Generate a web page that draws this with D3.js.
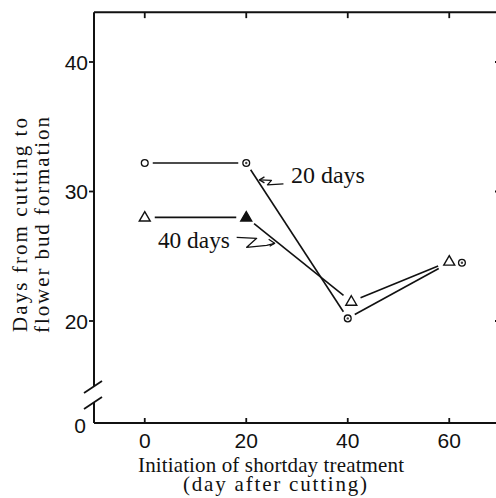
<!DOCTYPE html>
<html>
<head>
<meta charset="utf-8">
<script src="https://cdn.jsdelivr.net/npm/d3@7"></script>
<style>
  body { margin: 0; background: #fff; }
  svg { display: block; }
</style>
</head>
<body>
<div id="chart"></div>
<script>
// data
const xTicks = [0, 20, 40, 60];
const yTicks = [20, 30, 40];

// "20 days" series (circles)
const days20X = [0, 20, 40, 60];
const days20Y = [32.2, 32.2, 20.2, 24.5];
const days20MarkX = [0, 20, 40, 62.5]; // last circle printed a bit to the right

// "40 days" series (triangles)
const days40X = [0, 20, 40.7, 60];
const days40Y = [28.0, 28.0, 21.5, 24.6];
const days40Filled = [false, true, false, false];

const width = 496, height = 498;
const ink = '#111';

const svg = d3.select('#chart').append('svg')
    .attr('width', width)
    .attr('height', height);

const x = d3.scaleLinear().domain([-10, 70]).range([94, 500]);
const y = d3.scaleLinear().domain([20, 40]).range([321, 62]);
const yTop = y(43.85);
const yZero = 423;      // broken axis: zero sits at the bottom frame
const xLeft = x(-10), xRight = x(70);

// frame
const frame = svg.append('g')
    .attr('stroke', ink)
    .attr('stroke-width', 2)
    .attr('fill', 'none');

frame.append('line').attr('x1', xLeft).attr('x2', xRight).attr('y1', yTop).attr('y2', yTop);
frame.append('line').attr('x1', xLeft).attr('x2', xRight).attr('y1', yZero).attr('y2', yZero);
frame.append('line').attr('x1', xRight).attr('x2', xRight).attr('y1', yTop).attr('y2', yZero);
// left axis with break
frame.append('line').attr('x1', xLeft).attr('x2', xLeft).attr('y1', yTop).attr('y2', 386);
frame.append('line').attr('x1', xLeft).attr('x2', xLeft).attr('y1', 402).attr('y2', yZero);
frame.append('line').attr('x1', xLeft - 10).attr('x2', xLeft + 8).attr('y1', 393).attr('y2', 381)
    .attr('stroke-width', 1.8);
frame.append('line').attr('x1', xLeft - 10).attr('x2', xLeft + 8).attr('y1', 409).attr('y2', 397)
    .attr('stroke-width', 1.8);

// ticks
const ticks = svg.append('g').attr('stroke', ink).attr('stroke-width', 1.8);
ticks.selectAll('.tl').data(yTicks).enter().append('line')
    .attr('x1', xLeft - 5).attr('x2', xLeft)
    .attr('y1', d => y(d)).attr('y2', d => y(d));
ticks.selectAll('.tr').data(yTicks).enter().append('line')
    .attr('x1', xRight - 5).attr('x2', xRight)
    .attr('y1', d => y(d)).attr('y2', d => y(d));
ticks.selectAll('.tt').data(xTicks).enter().append('line')
    .attr('x1', d => x(d)).attr('x2', d => x(d))
    .attr('y1', yTop).attr('y2', yTop + 6);
ticks.selectAll('.tb').data(xTicks).enter().append('line')
    .attr('x1', d => x(d)).attr('x2', d => x(d))
    .attr('y1', yZero - 5).attr('y2', yZero);

// tick labels
const tickFont = 'Liberation Sans, Arial, sans-serif';
svg.selectAll('.yl').data(yTicks).enter().append('text')
    .attr('x', xLeft - 6)
    .attr('y', d => y(d))
    .attr('dy', '0.36em')
    .attr('text-anchor', 'end')
    .style('font-family', tickFont)
    .style('font-size', '21px')
    .attr('fill', ink)
    .text(d => d);
svg.append('text')
    .attr('x', xLeft - 8)
    .attr('y', yZero + 2)
    .attr('dy', '0.36em')
    .attr('text-anchor', 'end')
    .style('font-family', tickFont)
    .style('font-size', '21px')
    .attr('fill', ink)
    .text('0');
svg.selectAll('.xl').data(xTicks).enter().append('text')
    .attr('x', d => x(d))
    .attr('y', 448)
    .attr('text-anchor', 'middle')
    .style('font-family', tickFont)
    .style('font-size', '21px')
    .attr('fill', ink)
    .text(d => d);

// axis titles
const serif = 'Liberation Serif, Times New Roman, serif';
function title(txt, tx, ty, len, rot) {
    svg.append('text')
        .attr('transform', `translate(${tx},${ty})` + (rot ? ' rotate(-90)' : ''))
        .attr('text-anchor', 'middle')
        .attr('textLength', len)
        .attr('lengthAdjust', 'spacing')
        .style('font-family', serif)
        .style('font-size', '21px')
        .attr('fill', ink)
        .text(txt);
}
title('Initiation of shortday treatment', 271, 472, 266, false);
title('(day after cutting)', 275, 491, 184, false);
title('Days from cutting to', 27, 225, 214, true);
title('flower bud formation', 49, 225, 216, true);

// series lines, trimmed so they stop short of the markers
function trimmed(xs, ys, g0, g1) {
    const segs = [];
    for (let i = 0; i < xs.length - 1; i++) {
        const ax = x(xs[i]), ay = y(ys[i]), bx = x(xs[i + 1]), by = y(ys[i + 1]);
        const L = Math.hypot(bx - ax, by - ay);
        const ux = (bx - ax) / L, uy = (by - ay) / L;
        const e = i === xs.length - 2 ? g1 : g0;
        segs.push([ax + ux * g0, ay + uy * g0, bx - ux * e, by - uy * e]);
    }
    return segs;
}
const lines = svg.append('g').attr('stroke', ink).attr('stroke-width', 1.6);
lines.selectAll('.s20').data(trimmed(days20X, days20Y, 8, 12)).enter().append('line')
    .attr('x1', d => d[0]).attr('y1', d => d[1]).attr('x2', d => d[2]).attr('y2', d => d[3]);
lines.selectAll('.s40').data(trimmed(days40X, days40Y, 10, 12)).enter().append('line')
    .attr('x1', d => d[0]).attr('y1', d => d[1]).attr('x2', d => d[2]).attr('y2', d => d[3]);

// circle markers
const circ = svg.selectAll('.c20').data(days20Y).enter().append('g')
    .attr('transform', (d, i) => `translate(${x(days20MarkX[i])},${y(d)})`);
circ.append('circle').attr('r', 3.4).attr('fill', '#fff').attr('stroke', ink).attr('stroke-width', 1.3);
circ.append('circle').attr('r', 1.2).attr('fill', ink).attr('opacity', (d, i) => i === 0 ? 0 : 0.8);

// triangle markers
const tri = d3.symbol().type(d3.symbolTriangle).size(52);
svg.selectAll('.t40').data(days40Y).enter().append('path')
    .attr('d', tri)
    .attr('transform', (d, i) => `translate(${x(days40X[i])},${y(d) + 0.5})`)
    .attr('fill', (d, i) => days40Filled[i] ? ink : '#fff')
    .attr('stroke', ink)
    .attr('stroke-width', 1.4);

// annotations (tips placed in data units)
const ann = svg.append('g').attr('fill', 'none').attr('stroke', ink)
    .attr('stroke-width', 1.3).attr('stroke-linejoin', 'round');
const a20 = [x(22.6), y(30.9)];
ann.append('path')
    .attr('d', `M${a20[0]},${a20[1]} L${a20[0] + 12},${a20[1] + 0.5} L${a20[0] + 8},${a20[1] + 5} L${a20[0] + 24},${a20[1] + 4}`);
ann.append('path')
    .attr('d', `M${a20[0] + 5},${a20[1] - 3} L${a20[0]},${a20[1]} L${a20[0] + 5},${a20[1] + 3}`);
svg.append('text')
    .attr('x', x(28.8)).attr('y', y(30.66))
    .attr('textLength', 74).attr('lengthAdjust', 'spacingAndGlyphs')
    .style('font-family', serif).style('font-size', '23px')
    .attr('fill', ink)
    .text('20 days');

const a40 = [x(25.6), y(26.0)];
ann.append('path')
    .attr('d', `M${a40[0] - 38},${a40[1] - 6} L${a40[0] - 18},${a40[1] - 5} L${a40[0] - 28},${a40[1] + 4} L${a40[0] - 8},${a40[1] + 2} L${a40[0]},${a40[1]}`);
ann.append('path')
    .attr('d', `M${a40[0] - 6},${a40[1] - 4} L${a40[0]},${a40[1]} L${a40[0] - 5},${a40[1] + 3}`);
svg.append('text')
    .attr('x', x(2.6)).attr('y', y(25.6))
    .attr('textLength', 72).attr('lengthAdjust', 'spacingAndGlyphs')
    .style('font-family', serif).style('font-size', '23px')
    .attr('fill', ink)
    .text('40 days');
</script>
</body>
</html>
